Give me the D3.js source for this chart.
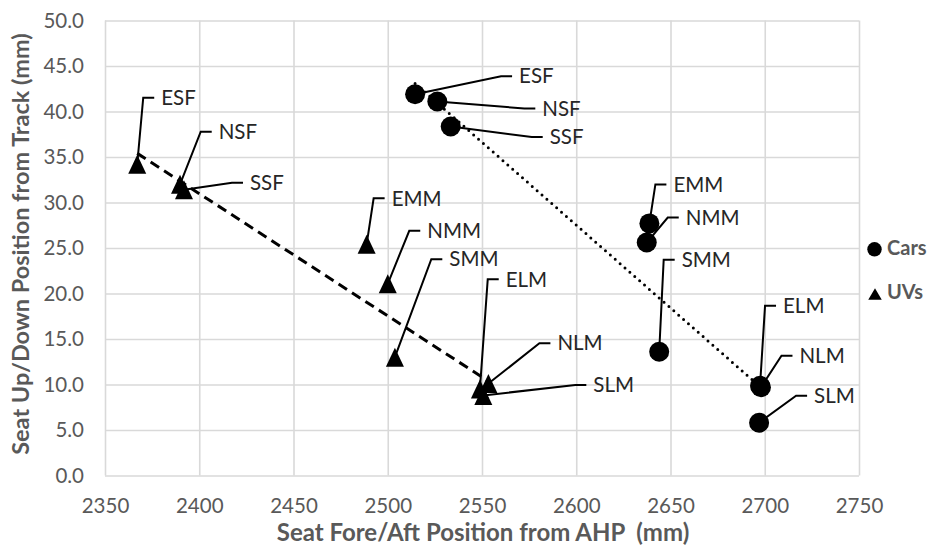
<!DOCTYPE html>
<html>
<head>
<meta charset="utf-8">
<script src="https://cdn.jsdelivr.net/npm/d3@7"></script>
<style>
  html, body { margin: 0; padding: 0; background: #fff; }
  svg { display: block; }
  text { font-family: Lato, "Open Sans", sans-serif; }
</style>
</head>
<body>
<svg id="chart" width="930" height="546"></svg>
<script>
// ---------------- DATA ----------------
const pointLabels = ["ESF", "NSF", "SSF", "EMM", "NMM", "SMM", "ELM", "NLM", "SLM"];
const carsX = [2514.5, 2526.3, 2533.4, 2638.8, 2637.4, 2644.0, 2697.5, 2698.0, 2697.0];
const carsY = [41.9, 41.1, 38.35, 27.7, 25.6, 13.6, 9.86, 9.7, 5.8];
const uvsX  = [2367.1, 2389.8, 2391.9, 2488.8, 2500.0, 2503.8, 2548.9, 2553.4, 2550.7];
const uvsY  = [34.2, 32.0, 31.4, 25.4, 21.07, 13.0, 9.5, 10.1, 8.8];
const seriesNames = ["Cars", "UVs"];
const xTicks = [2350, 2400, 2450, 2500, 2550, 2600, 2650, 2700, 2750];
const yTicks = [0, 5, 10, 15, 20, 25, 30, 35, 40, 45, 50];
const xTitle = "Seat Fore/Aft Position from AHP\u00A0 (mm)";
const yTitle = "Seat Up/Down Position from Track (mm)";

// ---------------- LAYOUT (label leader knees, px offsets from the point) ----------------
const carsKnees = [[86, -18], [87, 7], [81, 10.5], [6, -39], [21, -25], [4.5, -92], [5, -80], [20.5, -31.5], [37, -27]];
const uvsKnees  = [[6, -66.5], [20.7, -52.6], [48, -7], [7, -46], [21.5, -53], [36.4, -98], [7.8, -109.7], [51, -40.3], [92, -10.4]];

// ---------------- CHART ----------------
(function () {
const svg = d3.select("#chart");
const W = 930, H = 546;
const mLeft = 105, mRight = 859, mTop = 20.5, mBottom = 475.5;
svg.append("rect").attr("width", W).attr("height", H).attr("fill", "#fff");

const x = d3.scaleLinear().domain([2350, 2750]).range([mLeft, mRight]);
const y = d3.scaleLinear().domain([0, 50]).range([mBottom, mTop]);

const gridColor = "#d9d9d9";
const tickColor = "#595959";

const gx = svg.append("g").attr("transform", `translate(0,${mBottom})`)
  .call(d3.axisBottom(x).tickValues(xTicks).tickSize(-(mBottom - mTop)).tickPadding(23).tickFormat(d3.format("d")));
gx.select(".domain").remove();
gx.selectAll("line").attr("stroke", gridColor).attr("stroke-width", 1.6);
gx.selectAll("text").attr("fill", tickColor).attr("font-size", 20.5).attr("font-family", "Lato");

const gy = svg.append("g").attr("transform", `translate(${mLeft},0)`)
  .call(d3.axisLeft(y).tickValues(yTicks).tickSize(-(mRight - mLeft)).tickPadding(21).tickFormat(d3.format(".1f")));
gy.select(".domain").remove();
gy.selectAll("line").attr("stroke", gridColor).attr("stroke-width", 1.6);
gy.selectAll("text").attr("fill", tickColor).attr("font-size", 20.5).attr("font-family", "Lato");

svg.append("text").attr("x", 483).attr("y", 535).attr("text-anchor", "middle")
  .attr("dominant-baseline", "middle").attr("font-size", 24).attr("font-weight", "bold")
  .attr("fill", tickColor).text(xTitle);
svg.append("text").attr("transform", "translate(23,244) rotate(-90)").attr("text-anchor", "middle")
  .attr("dominant-baseline", "middle").attr("font-size", 23.5).attr("font-weight", "bold")
  .attr("fill", tickColor).text(yTitle);

function trend(xs, ys) {
  const n = xs.length, mx = d3.mean(xs), my = d3.mean(ys);
  let sxy = 0, sxx = 0;
  for (let i = 0; i < n; i++) { sxy += (xs[i] - mx) * (ys[i] - my); sxx += (xs[i] - mx) ** 2; }
  const b = sxy / sxx, a = my - b * mx;
  const x0 = d3.min(xs), x1 = d3.max(xs);
  return [[x0, a + b * x0], [x1, a + b * x1]];
}
const line = d3.line().x(d => x(d[0])).y(d => y(d[1]));

svg.append("path").attr("d", line(trend(uvsX, uvsY))).attr("fill", "none")
  .attr("stroke", "#000").attr("stroke-width", 3).attr("stroke-dasharray", "10,6");
svg.append("path").attr("d", line(trend(carsX, carsY))).attr("fill", "none")
  .attr("stroke", "#000").attr("stroke-width", 3).attr("stroke-dasharray", "0,6.5")
  .attr("stroke-linecap", "round");

function drawLabels(xs, ys, knees) {
  const g = svg.append("g");
  xs.forEach((xv, i) => {
    const px = x(xv), py = y(ys[i]);
    const kx = px + knees[i][0], ky = py + knees[i][1];
    g.append("path").attr("d", `M${px},${py}L${kx},${ky}L${kx + 11},${ky}`)
      .attr("fill", "none").attr("stroke", "#000").attr("stroke-width", 2);
    g.append("text").attr("x", kx + 18).attr("y", ky + 2).attr("dominant-baseline", "middle")
      .attr("font-size", 20.5).attr("fill", "#262626").text(pointLabels[i]);
  });
}
drawLabels(carsX, carsY, carsKnees);
drawLabels(uvsX, uvsY, uvsKnees);

const tri = (w, h) => `M0,${-h / 2}L${w / 2},${h / 2}L${-w / 2},${h / 2}Z`;
svg.append("g").selectAll("path").data(uvsX).join("path")
  .attr("d", tri(18, 19))
  .attr("transform", (d, i) => `translate(${x(d)},${y(uvsY[i])})`)
  .attr("fill", "#000");
svg.append("g").selectAll("circle").data(carsX).join("circle")
  .attr("cx", d => x(d)).attr("cy", (d, i) => y(carsY[i])).attr("r", 10)
  .attr("fill", "#000");

const lg = svg.append("g");
lg.append("circle").attr("cx", 874.5).attr("cy", 249.3).attr("r", 7.2).attr("fill", "#000");
lg.append("path").attr("d", tri(13.5, 11.5)).attr("transform", "translate(875,294)").attr("fill", "#000");
seriesNames.forEach((s, i) => {
  lg.append("text").attr("x", 887).attr("y", 250 + i * 44).attr("dominant-baseline", "middle")
    .attr("font-size", 20).attr("font-weight", "bold").attr("fill", tickColor).text(s);
});
})();
</script>
</body>
</html>
